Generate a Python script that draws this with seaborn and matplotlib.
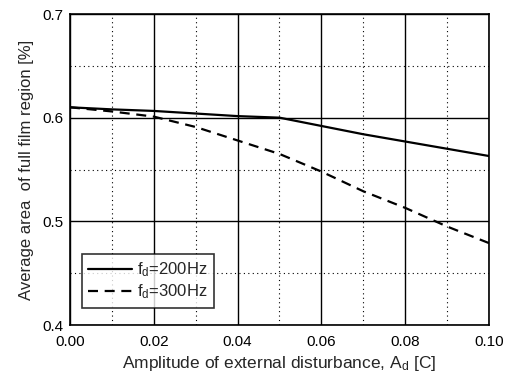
import numpy as np
import pandas as pd
import matplotlib
matplotlib.use("Agg")
import matplotlib.pyplot as plt
import seaborn as sns
from matplotlib.ticker import MultipleLocator

amplitude = [0.00, 0.01, 0.02, 0.03, 0.04, 0.05, 0.06, 0.07, 0.08, 0.09, 0.10]
area_200hz = [0.610, 0.608, 0.6065, 0.604, 0.6015, 0.600, 0.592, 0.584, 0.577, 0.570, 0.563]
area_300hz = [0.610, 0.606, 0.601, 0.591, 0.578, 0.565, 0.548, 0.529, 0.513, 0.495, 0.479]
series_labels = ["f$_d$=200Hz", "f$_d$=300Hz"]

df = pd.concat([
    pd.DataFrame({"A": amplitude, "area": area_200hz, "series": series_labels[0]}),
    pd.DataFrame({"A": amplitude, "area": area_300hz, "series": series_labels[1]}),
])

sns.set_style("white")
plt.rcParams["font.family"] = ["Liberation Sans", "DejaVu Sans"]
plt.rcParams["mathtext.fontset"] = "custom"
plt.rcParams["mathtext.rm"] = "Liberation Sans"
plt.rcParams["mathtext.it"] = "Liberation Sans"

fig = plt.figure(figsize=(5.06, 3.76), dpi=100)
ax = fig.add_axes([70 / 506, 1 - 325 / 376, (489 - 70) / 506, (325 - 14) / 376])

sns.lineplot(data=df, x="A", y="area", hue="series", style="series",
             palette=["black", "black"], dashes=[(None, None), (4.5, 3)],
             linewidth=1.6, ax=ax, legend=True)

ax.set_xlim(0, 0.10)
ax.set_ylim(0.4, 0.7)
ax.xaxis.set_major_locator(MultipleLocator(0.02))
ax.xaxis.set_minor_locator(MultipleLocator(0.01))
ax.yaxis.set_major_locator(MultipleLocator(0.1))
ax.yaxis.set_minor_locator(MultipleLocator(0.05))
ax.set_xticklabels([f"{v:.2f}" for v in ax.get_xticks()])
ax.set_yticklabels([f"{v:.1f}" for v in ax.get_yticks()])

ax.grid(True, which="major", color="black", linewidth=1.0, linestyle="-")
ax.grid(True, which="minor", color="black", linewidth=0.8, linestyle=(0, (1, 3)))
ax.tick_params(which="both", direction="in", colors="black", labelsize=11)
ax.tick_params(axis="x", which="major", pad=7)
ax.tick_params(axis="y", which="major", pad=5)
ax.tick_params(which="major", length=4, width=1)
ax.tick_params(which="minor", length=2, width=0.8)
for s in ax.spines.values():
    s.set_color("black")
    s.set_linewidth(1.2)

ax.set_xlabel("Amplitude of external disturbance, A$_d$ [C]", fontsize=12.5, labelpad=4)
ax.set_ylabel("Average area  of full film region [%]", fontsize=12, labelpad=6)

leg = ax.legend(loc="lower left", bbox_to_anchor=(0.028, 0.055), borderaxespad=0,
                fontsize=12, frameon=True, fancybox=False, edgecolor="black",
                handlelength=2.6, borderpad=0.4, labelspacing=0.2, handletextpad=0.3)
leg.get_frame().set_linewidth(1.2)

fig.savefig("out.png", dpi=100, facecolor="white")
